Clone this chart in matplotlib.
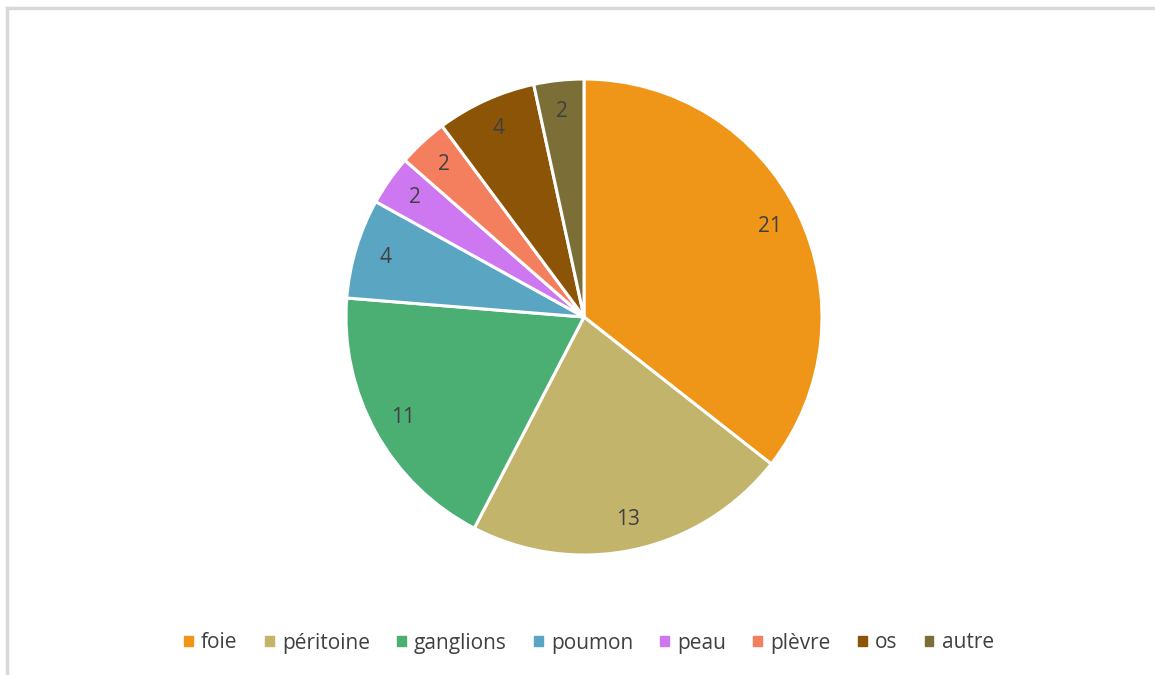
import matplotlib.pyplot as plt
from matplotlib.lines import Line2D

labels = ['foie', 'péritoine', 'ganglions', 'poumon', 'peau', 'plèvre', 'os', 'autre']
counts = [21, 13, 11, 4, 2, 2, 4, 2]
colors = ['#EF9517', '#C3B46B', '#4BAE73', '#59A5C2', '#CD78F1', '#F47F5E', '#8C5406', '#7B6F37']

plt.rcParams['font.family'] = ['Open Sans', 'DejaVu Sans']
txt = '#404040'

W, H = 1155, 675
fig = plt.figure(figsize=(W / 100, H / 100), dpi=100)

# pie centre and radius in pixels
cx, cy, r = 584, 317, 238
ax = fig.add_axes([(cx - r) / W, 1 - (cy + r) / H, 2 * r / W, 2 * r / H])

wedges, texts = ax.pie(counts, colors=colors, startangle=90, counterclock=False,
                       radius=1, labels=[str(c) for c in counts], labeldistance=0.87,
                       wedgeprops=dict(edgecolor='white', linewidth=2.2),
                       textprops=dict(color=txt, fontsize=15))
for t in texts:
    t.set_ha('center')
    t.set_va('center')
ax.set_xlim(-1, 1)
ax.set_ylim(-1, 1)
ax.set_aspect('equal')
ax.axis('off')

# chart frame (top and left edges only)
fig.add_artist(Line2D([7 / W, 1], [1 - 8 / H, 1 - 8 / H], color='#d9d9d9', lw=2.5,
                      transform=fig.transFigure))
fig.add_artist(Line2D([7 / W, 7 / W], [0, 1 - 8 / H], color='#d9d9d9', lw=2.5,
                      transform=fig.transFigure))

handles = [plt.Rectangle((0, 0), 1, 1, color=c) for c in colors]
fig.legend(handles, labels, loc='center', bbox_to_anchor=(589 / W, 1 - 643 / H),
           ncol=len(labels), frameon=False, fontsize=15, labelcolor=txt,
           handlelength=0.42, handleheight=0.42, handletextpad=0.4, columnspacing=1.3)

fig.savefig('out.png', dpi=100, facecolor='white')
